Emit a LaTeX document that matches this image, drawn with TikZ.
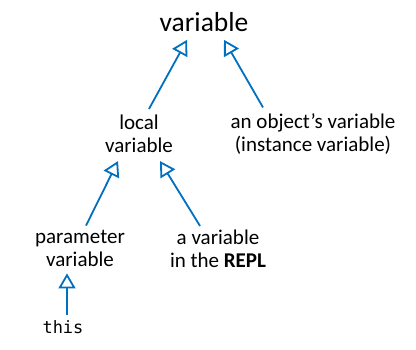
\documentclass[tikz,border=0pt]{standalone}
\usepackage{fontspec}
\setmainfont{Carlito}
\setmonofont{DejaVu Sans Mono}
\usepackage{xcolor}
\usetikzlibrary{arrows.meta}
\definecolor{umlblue}{RGB}{0,112,192}

\begin{document}
\begin{tikzpicture}[
  x=1pt, y=-1pt,
  term/.style={inner sep=0pt, align=center, font=\fontsize{21}{23}\selectfont},
  root/.style={inner sep=0pt, font=\fontsize{27.5}{30}\selectfont},
  inh/.style={-{Triangle[open, length=15pt, width=17pt]}, line width=1.8pt, draw=umlblue},
]
  \useasboundingbox (0,0) rectangle (416,350);

  \node[root] (var) at (204,22) {variable};

  \node[term] (local) at (139,134) {local\\variable};
  \node[term] (object) at (313,134) {an object's variable\\(instance variable)};

  \node[term] (param) at (80,248) {parameter\\variable};
  \node[term] (repl) at (218,249) {a variable\\in the \textbf{REPL}};

  \node[term, font=\fontsize{17}{20}\ttfamily] (this) at (63,327) {this};

  \draw[inh] ([xshift=10pt, yshift=6pt]local.north) -- ([xshift=-17pt, yshift=-8pt]var.south);
  \draw[inh] ([xshift=-50pt, yshift=6pt]object.north) -- ([xshift=20pt, yshift=-8pt]var.south);
  \draw[inh] ([xshift=6pt, yshift=4pt]param.north) -- ([xshift=-21pt, yshift=-8pt]local.south);
  \draw[inh] ([xshift=-18pt, yshift=4pt]repl.north) -- ([xshift=21pt, yshift=-8pt]local.south);
  \draw[inh] ([xshift=4pt, yshift=5pt]this.north) -- ([xshift=-13pt, yshift=-7pt]param.south);
\end{tikzpicture}
\end{document}
